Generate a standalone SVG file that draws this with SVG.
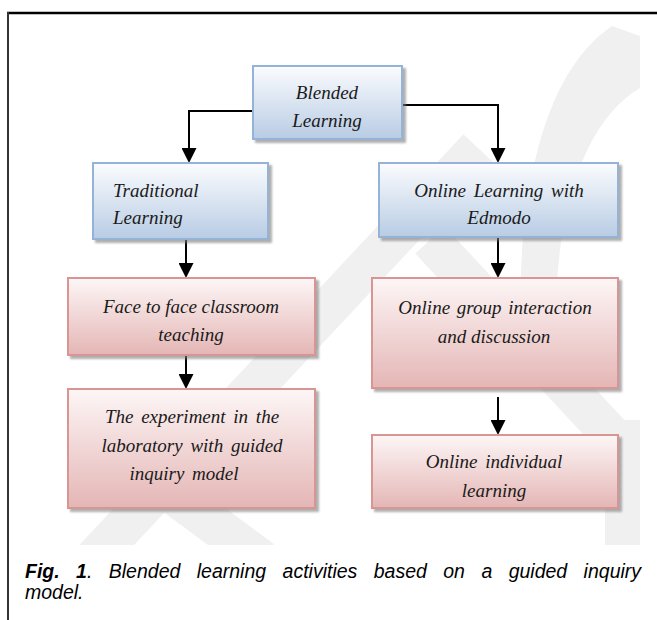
<svg xmlns="http://www.w3.org/2000/svg" width="657" height="620" viewBox="0 0 657 620">
<defs>
<linearGradient id="gBlue" x1="0" y1="0" x2="0" y2="1">
<stop offset="0" stop-color="#fbfcfe"/>
<stop offset="1" stop-color="#b8cce4"/>
</linearGradient>
<linearGradient id="gPink" x1="0" y1="0" x2="0" y2="1">
<stop offset="0" stop-color="#fdf6f6"/>
<stop offset="1" stop-color="#e4b6b5"/>
</linearGradient>
<filter id="sh" x="-10%" y="-10%" width="130%" height="130%">
<feDropShadow dx="3" dy="3" stdDeviation="1" flood-color="#7a7a7a" flood-opacity="0.6"/>
</filter>
<marker id="ah" markerUnits="userSpaceOnUse" markerWidth="15" markerHeight="15" refX="13" refY="7.5" orient="auto">
<path d="M0,0 L15,7.5 L0,15 Z" fill="#000"/>
</marker>
<clipPath id="wmclip"><rect x="10" y="25" width="630" height="520"/></clipPath>
<style>
.blue{fill:url(#gBlue);stroke:#95b3d7;stroke-width:2;filter:url(#sh)}
.pink{fill:url(#gPink);stroke:#d99594;stroke-width:2;filter:url(#sh)}
.t{font-family:"Liberation Serif","Times New Roman",serif;font-style:italic;font-size:19px;fill:#1a1a1a}
.c{text-anchor:middle}
.wm{fill:none;stroke:#f0f0f0}
.con{fill:none;stroke:#000;stroke-width:2}
.cap{font-family:"Liberation Sans",Arial,sans-serif;font-style:italic;font-size:19.5px;fill:#000}
</style>
</defs>
<rect width="657" height="620" fill="#fff"/>
<g id="watermark" clip-path="url(#wmclip)">
<path d="M612 26 C555 65 518 160 520 330 L556 330 C554 210 585 120 640 88 L640 36 Z" fill="#f0f0f0"/>
<path class="wm" d="M430 240 L625 450" stroke-width="40"/>
<rect x="605" y="420" width="35" height="125" fill="#f0f0f0"/>
<path class="wm" d="M478 148 L88 565" stroke-width="40"/>
<path class="wm" d="M140 470 L262 560" stroke-width="40"/>
</g>
<g id="frame">
<line x1="7" y1="13" x2="657" y2="13" stroke="#000" stroke-width="2.5"/>
<line x1="8" y1="12" x2="8" y2="620" stroke="#333" stroke-width="2"/>
</g>
<g id="connectors">
<path class="con" d="M253 111 H189 V161" marker-end="url(#ah)"/>
<path class="con" d="M402 105 H498 V161" marker-end="url(#ah)"/>
<path class="con" d="M186 239 V276" marker-end="url(#ah)"/>
<path class="con" d="M498 237 V276" marker-end="url(#ah)"/>
<path class="con" d="M186 355 V387" marker-end="url(#ah)"/>
<path class="con" d="M498 397 V433" marker-end="url(#ah)"/>
</g>
<g id="blended">
<rect class="blue" x="253" y="66" width="149" height="73"/>
<text class="t c" x="327" y="99">Blended</text>
<text class="t c" x="327" y="127">Learning</text>
</g>
<g id="traditional">
<rect class="blue" x="93" y="163" width="175" height="76"/>
<text class="t" x="113" y="197">Traditional</text>
<text class="t" x="113" y="224">Learning</text>
</g>
<g id="online">
<rect class="blue" x="379" y="163" width="239" height="74"/>
<text class="t c" x="499" y="197" word-spacing="3">Online Learning with</text>
<text class="t c" x="499" y="224">Edmodo</text>
</g>
<g id="face">
<rect class="pink" x="68" y="278" width="247" height="77"/>
<text class="t c" x="191" y="313">Face to face classroom</text>
<text class="t c" x="191" y="341">teaching</text>
</g>
<g id="experiment">
<rect class="pink" x="68" y="389" width="247" height="119"/>
<text class="t c" x="192" y="423" word-spacing="3">The experiment in the</text>
<text class="t c" x="192" y="452" word-spacing="3">laboratory with guided</text>
<text class="t c" x="184" y="480" word-spacing="3">inquiry model</text>
</g>
<g id="group">
<rect class="pink" x="372" y="278" width="246" height="110"/>
<text class="t c" x="495" y="314" word-spacing="2">Online group interaction</text>
<text class="t c" x="494" y="343">and discussion</text>
</g>
<g id="individual">
<rect class="pink" x="372" y="435" width="246" height="73"/>
<text class="t c" x="494" y="468" word-spacing="3">Online individual</text>
<text class="t c" x="494" y="497">learning</text>
</g>
<g id="caption">
<text class="cap" x="25" y="578" word-spacing="11"><tspan font-weight="bold">Fig. 1</tspan>. Blended learning activities based on a guided inquiry</text>
<text class="cap" x="25" y="599">model.</text>
</g>
</svg>
